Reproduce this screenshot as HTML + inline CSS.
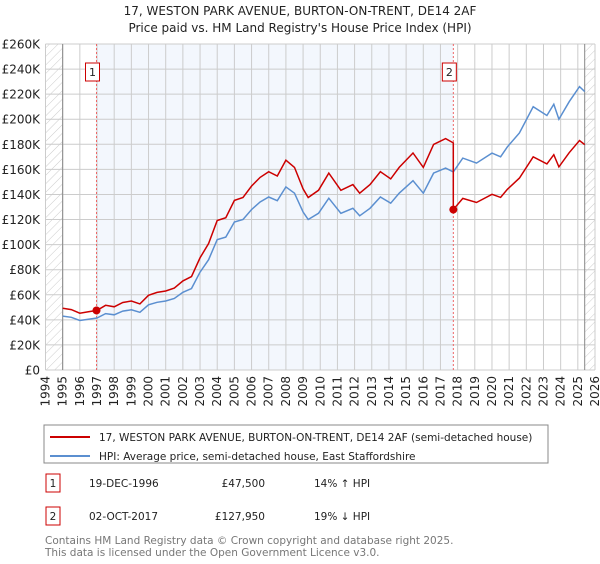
<!DOCTYPE html>
<html><head><meta charset="utf-8"><style>
body{margin:0;background:#fff;width:600px;height:560px;overflow:hidden;font-family:"DejaVu Sans","Liberation Sans",sans-serif;}
svg text{font-family:"DejaVu Sans","Liberation Sans",sans-serif;}
</style></head><body>
<svg id="c" width="600" height="560">
<defs><pattern id="hatch" width="6" height="6" patternUnits="userSpaceOnUse" patternTransform="rotate(45)"><line x1="0" y1="0" x2="0" y2="6" stroke="#ccc" stroke-width="1"/></pattern></defs>
<text x="300" y="15" text-anchor="middle" font-size="12" fill="#222">17, WESTON PARK AVENUE, BURTON-ON-TRENT, DE14 2AF</text>
<text x="300" y="32" text-anchor="middle" font-size="12" fill="#222">Price paid vs. HM Land Registry's House Price Index (HPI)</text>
<g id="plot"></g>
<rect x="44" y="425" width="504" height="38" fill="#fff" stroke="#888"/>
<line x1="50" y1="437" x2="90" y2="437" stroke="#cc0000" stroke-width="2"/>
<text x="99" y="441" font-size="10.5" fill="#222">17, WESTON PARK AVENUE, BURTON-ON-TRENT, DE14 2AF (semi-detached house)</text>
<line x1="50" y1="456" x2="90" y2="456" stroke="#5b8fd0" stroke-width="2"/>
<text x="99" y="460" font-size="10.5" fill="#222">HPI: Average price, semi-detached house, East Staffordshire</text>
<rect x="46" y="474" width="14" height="18" fill="#fff" stroke="#cc0000"/>
<text x="53" y="487" text-anchor="middle" font-size="10.5" fill="#222">1</text>
<text x="89" y="487" font-size="10.5" fill="#222">19-DEC-1996</text>
<text x="265" y="487" text-anchor="end" font-size="10.5" fill="#222">£47,500</text>
<text x="314" y="487" font-size="10.5" fill="#222">14% ↑ HPI</text>
<rect x="46" y="507" width="14" height="18" fill="#fff" stroke="#cc0000"/>
<text x="53" y="520" text-anchor="middle" font-size="10.5" fill="#222">2</text>
<text x="89" y="520" font-size="10.5" fill="#222">02-OCT-2017</text>
<text x="265" y="520" text-anchor="end" font-size="10.5" fill="#222">£127,950</text>
<text x="314" y="520" font-size="10.5" fill="#222">19% ↓ HPI</text>
<text x="45" y="544" font-size="10.5" fill="#777">Contains HM Land Registry data © Crown copyright and database right 2025.</text>
<text x="45" y="556" font-size="10.5" fill="#777">This data is licensed under the Open Government Licence v3.0.</text>
</svg>
<script>
const hpiYears=[1995,1995.5,1996,1996.5,1997,1997.5,1998,1998.5,1999,1999.5,2000,2000.5,2001,2001.5,2002,2002.5,2003,2003.5,2004,2004.5,2005,2005.5,2006,2006.5,2007,2007.5,2008,2008.5,2009,2009.3,2009.9,2010.5,2011.2,2011.9,2012.3,2012.9,2013.5,2014.1,2014.6,2015.4,2016,2016.6,2017.3,2017.75,2018.3,2019.1,2020,2020.5,2020.9,2021.6,2022.4,2023.2,2023.6,2023.9,2024.5,2025.1,2025.4];
const hpiValues=[43,42,39.5,40.5,41.5,45,44,47,48,46,52,54,55,57,62,65,78,88,104,106,118,120,128,134,138,135,146,141,126,120,125,137,125,129,123,129,138,133,141,151,141,157,161,158,169,165,173,170,178,189,210,203,212,200,214,226,222];
const saleDates=[1996.97,2017.75];
const salePrices=[47500,127950];
const saleLabels=["1","2"];
const yTicks=[0,20,40,60,80,100,120,140,160,180,200,220,240,260];
const xTicks=[1994,1995,1996,1997,1998,1999,2000,2001,2002,2003,2004,2005,2006,2007,2008,2009,2010,2011,2012,2013,2014,2015,2016,2017,2018,2019,2020,2021,2022,2023,2024,2025,2026];
const X0=45.5,X1=595,Y0=370,Y1=44;
const x=t=>X0+(t-1994)/(2026-1994)*(X1-X0);
const y=v=>Y0-v/260*(Y0-Y1);
const NS="http://www.w3.org/2000/svg";
const g=document.getElementById('plot');
function mk(tag,attrs,parent){const e=document.createElementNS(NS,tag);for(const k in attrs)e.setAttribute(k,attrs[k]);(parent||g).appendChild(e);return e;}
let e;
e=mk('rect',{x:X0,y:Y1,width:X1-X0,height:Y0-Y1,fill:'#fff'});
e=mk('rect',{x:x(saleDates[0]),y:Y1,width:x(saleDates[1])-x(saleDates[0]),height:Y0-Y1,fill:'#f3f7fd'});


e=mk('rect',{x:X0,y:Y1,width:x(1995)-X0,height:Y0-Y1,fill:'url(#hatch)'});


e=mk('rect',{x:x(2025.4),y:Y1,width:X1-x(2025.4),height:Y0-Y1,fill:'url(#hatch)'});


yTicks.forEach(v=>{
 e=mk('line',{x1:X0,x2:X1,y1:y(v),y2:y(v),stroke:'#cccccc','stroke-width':1});
 
 
 e=mk('text',{x:40,y:y(v)+4.5,'text-anchor':'end','font-size':12,fill:'#222'});
 e.textContent=v===0?'£0':'£'+v+'K';
 
 
});
xTicks.forEach(t=>{
 e=mk('line',{x1:x(t),x2:x(t),y1:Y1,y2:Y0,stroke:'#cccccc','stroke-width':1});
 
 
 e=mk('text',{x:0,y:0,'text-anchor':'end','font-size':12,fill:'#222',transform:`translate(${x(t)+4},${Y0+6}) rotate(-90)`});
 e.textContent=t;
 
 
});
e=mk('line',{x1:x(1995),x2:x(1995),y1:Y1,y2:Y0,stroke:'#888'});
e=mk('line',{x1:x(2025.4),x2:x(2025.4),y1:Y1,y2:Y0,stroke:'#888'});
saleDates.forEach((d,i)=>{
 e=mk('line',{x1:x(d),x2:x(d),y1:Y1,y2:Y0,stroke:'#e66','stroke-width':1,'stroke-dasharray':'2,2'});
 
 
});
let pts=hpiYears.map((t,i)=>x(t).toFixed(1)+','+y(hpiValues[i]).toFixed(1)).join(' ');
e=mk('polyline',{points:pts,fill:'none',stroke:'#5b8fd0','stroke-width':1.5});


function hpiAt(t){for(let i=1;i<hpiYears.length;i++){if(t<=hpiYears[i]){const f=(t-hpiYears[i-1])/(hpiYears[i]-hpiYears[i-1]);return hpiValues[i-1]+f*(hpiValues[i]-hpiValues[i-1]);}}return hpiValues[hpiValues.length-1];}
const r0=salePrices[0]/1000/hpiAt(saleDates[0]),r1=salePrices[1]/1000/hpiAt(saleDates[1]);
let rp=[];
hpiYears.forEach((t,i)=>{if(t<saleDates[1])rp.push([t,hpiValues[i]*r0]);});
rp.push([saleDates[1],hpiAt(saleDates[1])*r0]);
rp.push([saleDates[1],salePrices[1]/1000]);
hpiYears.forEach((t,i)=>{if(t>saleDates[1])rp.push([t,hpiValues[i]*r1]);});
e=mk('polyline',{points:rp.map(p=>x(p[0]).toFixed(1)+','+y(p[1]).toFixed(1)).join(' '),fill:'none',stroke:'#cc0000','stroke-width':1.5});


saleDates.forEach((d,i)=>{
 e=mk('circle',{cx:x(d),cy:y(salePrices[i]/1000),r:4,fill:'#cc0000'});
 
 
 e=mk('rect',{x:x(d)-11,y:63,width:14,height:18,fill:'#fff',stroke:'#cc0000'});
 
 
 e=mk('text',{x:x(d)-4,y:76,'text-anchor':'middle','font-size':11,fill:'#222'});
 e.textContent=saleLabels[i];
});
</script>
</body></html>
